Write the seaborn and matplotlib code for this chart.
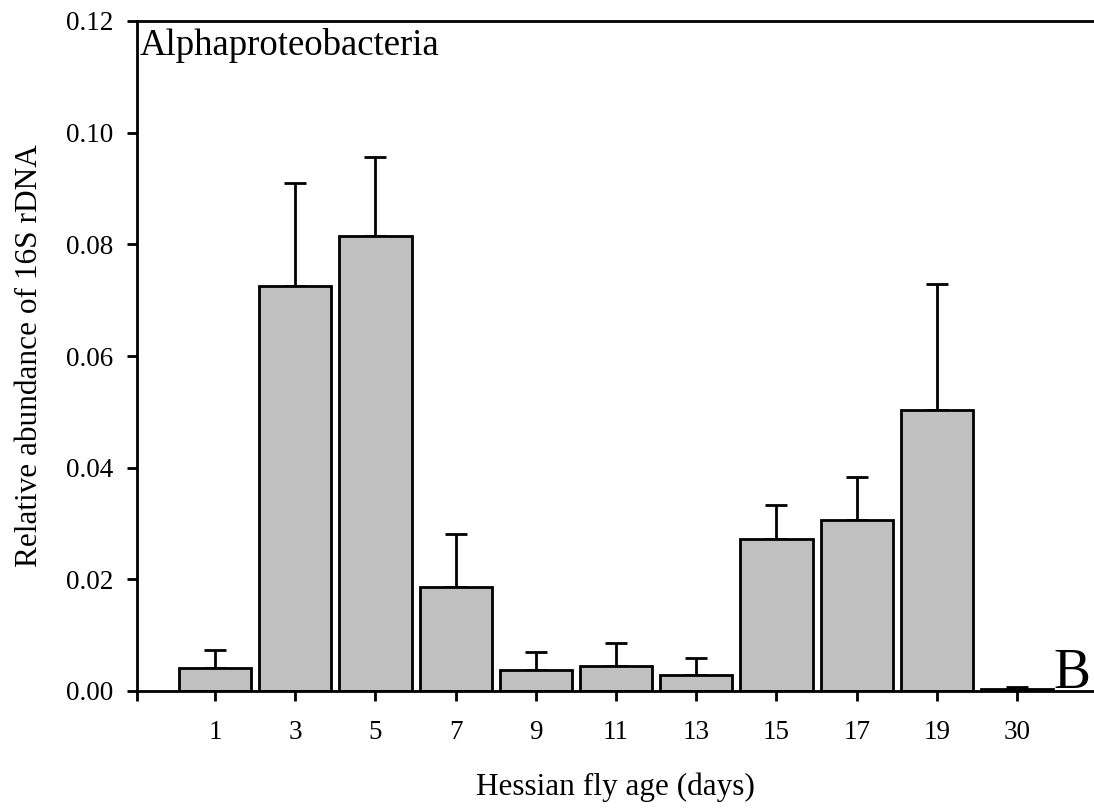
import matplotlib
matplotlib.use("Agg")
import matplotlib.pyplot as plt
import seaborn as sns
import numpy as np
import pandas as pd

ages = ["1", "3", "5", "7", "9", "11", "13", "15", "17", "19", "30"]
means = [0.0042, 0.0726, 0.0815, 0.0186, 0.0038, 0.0045, 0.0029, 0.0272, 0.0306, 0.0503, 0.0003]
errors = [0.0032, 0.0183, 0.0141, 0.0095, 0.0032, 0.0041, 0.0030, 0.0062, 0.0078, 0.0226, 0.0004]
yticks = [0.00, 0.02, 0.04, 0.06, 0.08, 0.10, 0.12]

sns.set_style("white")
plt.rcParams["font.family"] = ["Liberation Serif", "DejaVu Serif"]
plt.rcParams["text.color"] = "black"
plt.rcParams["axes.labelcolor"] = "black"
plt.rcParams["xtick.color"] = "black"
plt.rcParams["ytick.color"] = "black"

df = pd.DataFrame({"age": ages, "mean": means})

fig = plt.figure(figsize=(10.94, 8.09), dpi=100)
ax = fig.add_axes([137/1094, 1 - 691/809, 1 - 137/1094, (691 - 21)/809])

sns.barplot(data=df, x="age", y="mean", order=ages, color="#c0c0c0",
            saturation=1, width=0.9, edgecolor="black", linewidth=2,
            errorbar=None, ax=ax, zorder=2)

xpos = np.arange(len(ages))
ax.errorbar(xpos, means, yerr=[np.zeros(len(errors)), errors], fmt="none",
            ecolor="black", elinewidth=2, capsize=8, capthick=2, zorder=1)

ax.set_xlim(-0.973, 10.96)
ax.set_ylim(0, 0.12)
ax.set_yticks(yticks)
ax.set_yticklabels([f"{v:.2f}" for v in yticks])
ax.set_xticks([-0.973] + list(xpos))
ax.set_xticklabels([""] + ages)

for s in ["left", "bottom", "top"]:
    ax.spines[s].set_visible(True)
    ax.spines[s].set_linewidth(2)
    ax.spines[s].set_color("black")
ax.spines["right"].set_visible(False)

ax.tick_params(axis="y", direction="out", length=7, width=2, pad=10,
               labelsize=19.5, left=True, colors="black", labelcolor="black")
ax.tick_params(axis="x", direction="out", length=7, width=2, pad=14,
               labelsize=19.5, bottom=True, colors="black", labelcolor="black")

ax.set_xlabel("Hessian fly age (days)", fontsize=22.5, labelpad=20, color="black")
ax.set_ylabel("Relative abundance of 16S rDNA", fontsize=22.5, labelpad=16, color="black")

ax.text(0.003, 0.99, "Alphaproteobacteria", transform=ax.transAxes,
        ha="left", va="top", fontsize=26.5, color="black")
ax.text(0.996, 0.004, "B", transform=ax.transAxes, ha="right", va="baseline",
        fontsize=40, color="black")

fig.savefig("out.png", dpi=100)
